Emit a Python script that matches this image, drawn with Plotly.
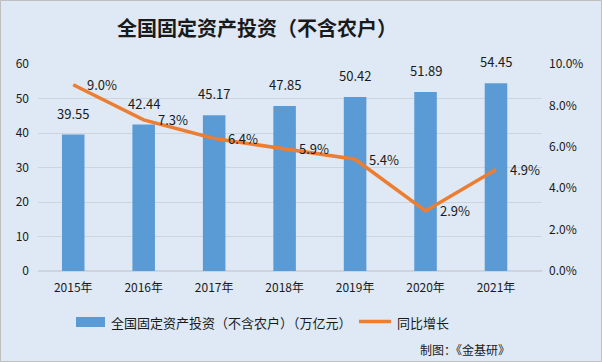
import plotly.graph_objects as go

years = ["2015年", "2016年", "2017年", "2018年", "2019年", "2020年", "2021年"]
investment = [39.55, 42.44, 45.17, 47.85, 50.42, 51.89, 54.45]
growth = [9.0, 7.3, 6.4, 5.9, 5.4, 2.9, 4.9]
y1_ticks = [0, 10, 20, 30, 40, 50, 60]
y2_ticks = [0, 2, 4, 6, 8, 10]
bar_name = "全国固定资产投资（不含农户）（万亿元）"
line_name = "同比增长"

BG = "#DEE9F5"
FONT = "Noto Sans CJK SC"
W, H = 602, 362
ML, MR, MT, MB = 38, 60, 64, 91
pw = W - ML - MR
ph = H - MT - MB


def px(x):
    return (x - ML) / pw


def py(y):
    return (H - y - MB) / ph


fig = go.Figure()
fig.add_trace(go.Bar(
    x=years, y=investment, name=bar_name,
    marker=dict(color="#5B9BD5", line=dict(width=0)), width=0.32,
))
fig.add_trace(go.Scatter(
    x=years, y=growth, name=line_name, yaxis="y2", mode="lines",
    line=dict(color="#ED7D31", width=3.5),
))

TXT = "#1a1a1a"
ann = []
for x, v in zip(years, investment):
    ann.append(dict(x=x, y=v, xref="x", yref="y", text=f"{v:.2f}", showarrow=False,
                    yanchor="bottom", yshift=10, font=dict(size=13, color=TXT, family=FONT)))
for x, v in zip(years, growth):
    ann.append(dict(x=x, y=v, xref="x", yref="y2", text=f"{v:.1f}%", showarrow=False,
                    xanchor="left", yanchor="middle", xshift=12,
                    font=dict(size=13, color=TXT, family=FONT)))
ann.append(dict(x=px(257), y=py(27), xref="paper", yref="paper",
                text="<b>全国固定资产投资（不含农户）</b>", showarrow=False,
                xanchor="center", yanchor="middle",
                font=dict(size=20, color=TXT, family=FONT)))
ann.append(dict(x=px(512), y=py(349), xref="paper", yref="paper",
                text="制图：《金基研》", showarrow=False, xanchor="right", yanchor="middle",
                font=dict(size=12, color=TXT, family=FONT)))
ann.append(dict(x=px(109), y=py(322), xref="paper", yref="paper", text=bar_name,
                showarrow=False, xanchor="left", yanchor="middle",
                font=dict(size=13, color=TXT, family=FONT)))
ann.append(dict(x=px(395), y=py(322), xref="paper", yref="paper", text=line_name,
                showarrow=False, xanchor="left", yanchor="middle",
                font=dict(size=13, color=TXT, family=FONT)))

shapes = [
    dict(type="rect", xref="paper", yref="paper",
         x0=px(0.5), x1=px(W - 0.5), y0=py(H - 0.5), y1=py(0.5),
         line=dict(color="#BFBFBF", width=1)),
    dict(type="rect", xref="paper", yref="paper",
         x0=px(76), x1=px(105), y0=py(327), y1=py(317),
         fillcolor="#5B9BD5", line=dict(width=0)),
    dict(type="line", xref="paper", yref="paper",
         x0=px(359), x1=px(391), y0=py(321.5), y1=py(321.5),
         line=dict(color="#ED7D31", width=3.5)),
]

fig.update_layout(
    width=W, height=H,
    margin=dict(l=ML, r=MR, t=MT, b=MB, autoexpand=False),
    paper_bgcolor=BG, plot_bgcolor=BG,
    font=dict(family=FONT, size=12, color=TXT),
    showlegend=False,
    hovermode=False,
    xaxis=dict(showgrid=False, showline=False, ticks="", tickfont=dict(size=12),
               ticklabelstandoff=8),
    yaxis=dict(range=[0, 60], tickvals=y1_ticks, gridcolor="#CDD4DD", gridwidth=1,
               zeroline=True, zerolinecolor="#CDD4DD", showline=False, ticks="",
               tickfont=dict(size=12), ticklabelstandoff=8),
    yaxis2=dict(range=[0, 10], tickvals=y2_ticks, ticktext=[f"{t:.1f}%" for t in y2_ticks],
                overlaying="y", side="right", showgrid=False, zeroline=False, showline=False,
                ticks="", tickfont=dict(size=12), ticklabelstandoff=6),
    annotations=ann,
    shapes=shapes,
)

fig.write_html("out.html", config={"displayModeBar": False},
               post_script="document.body.style.margin='0';")
